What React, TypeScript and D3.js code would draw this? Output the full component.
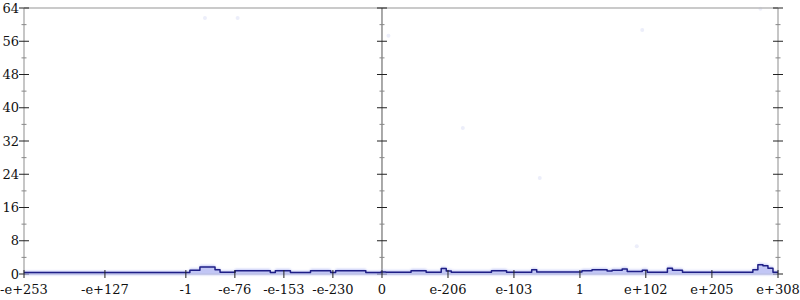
import React from "react";
import * as d3 from "d3";

// histogram bin heights (150 bins across the full axis)
const binValues: number[] = [
  ...Array(33).fill(0.35),
  0.9, 0.9, 1.7, 1.7, 1.7, 1.0, 0.4, 0.4, 0.4,
  0.8, 0.8, 0.8, 0.8, 0.8, 0.8, 0.8, 0.35, 0.8, 0.8, 0.8,
  0.35, 0.35, 0.35, 0.35, 0.8, 0.8, 0.8, 0.8, 0.35,
  0.8, 0.8, 0.8, 0.8, 0.8, 0.8, 0.35, 0.35, 0.35,
  0.5, 0.45, 0.45, 0.45, 0.45, 0.45, 0.8, 0.8, 0.8, 0.45, 0.45, 0.45,
  1.3, 0.7, 0.45, 0.45, 0.45, 0.45, 0.45, 0.45, 0.45, 0.45,
  0.8, 0.8, 0.8, 0.45, 0.45, 0.45, 0.45, 0.45, 1.0,
  0.5, 0.5, 0.5, 0.5, 0.5, 0.5, 0.5, 0.5, 0.5,
  0.8, 0.8, 1.0, 1.0, 1.0, 0.7, 0.9, 0.9, 1.2, 0.6, 0.6, 0.6, 0.9,
  0.45, 0.45, 0.45, 0.45, 1.4, 0.9, 0.9,
  ...Array(14).fill(0.4),
  1.0, 2.2, 2.0, 1.4, 0.4,
];

// faint scattered points (bin position, value)
const scatterX: number[] = [36, 42.5, 72.5, 87.3, 102.6, 121.9, 123, 146.5];
const scatterY: number[] = [61.6, 61.6, 57.3, 35.1, 23.1, 6.7, 58.7, 63.8];

const xTickPos: number[] = [0, 16.1, 32.2, 41.95, 51.7, 61.45, 71.22, 84.35, 97.47, 110.6, 123.7, 136.85, 150];
const xTickLabels: string[] = [
  "-e+253", "-e+127", "-1", "-e-76", "-e-153", "-e-230", "0",
  "e-206", "e-103", "1", "e+102", "e+205", "e+308",
];
const yMajor: number[] = [0, 8, 16, 24, 32, 40, 48, 56, 64];
const yMinor: number[] = [4, 12, 20, 28, 36, 44, 52, 60];
const zeroBin = 71.22;

export default function App() {
  const W = 800, H = 300;
  const x = d3.scaleLinear().domain([0, binValues.length]).range([24, 778]);
  const y = d3.scaleLinear().domain([0, 64]).range([274, 8]);
  const pts: [number, number][] = binValues.map((v, i) => [i, v]);
  pts.push([binValues.length, binValues[binValues.length - 1]]);
  const lineGen = d3.line<[number, number]>().x(d => x(d[0])).y(d => y(d[1])).curve(d3.curveStepAfter);
  const areaGen = d3.area<[number, number]>().x(d => x(d[0])).y0(y(-0.25)).y1(d => y(d[1] + 0.4)).curve(d3.curveStepAfter);
  const fontStyle = { fontFamily: "'DejaVu Serif', serif" };
  const axes = [0, zeroBin, binValues.length];
  return (
    <svg width={W} height={H} style={{ position: "absolute", left: 0, top: 0 }}>
      <defs>
        <filter id="blur" x="-5%" y="-200%" width="110%" height="500%">
          <feGaussianBlur stdDeviation="0.8" />
        </filter>
      </defs>
      <rect width={W} height={H} fill="#fff" />
      {/* scatter */}
      {scatterX.map((sx, i) => (
        <circle key={i} cx={x(sx)} cy={y(scatterY[i])} r={2} fill="#eceefa" />
      ))}
      {/* frame */}
      <line x1={x(0)} x2={x(150)} y1={y(64)} y2={y(64)} stroke="#b8b8b8" strokeWidth={1.6} />
      <line x1={x(0)} x2={x(150)} y1={y(0)} y2={y(0)} stroke="#b8b8b8" strokeWidth={1.2} />
      <line x1={x(0)} x2={x(0)} y1={y(0)} y2={y(64)} stroke="#b8b8b8" strokeWidth={1.6} />
      <line x1={x(150)} x2={x(150)} y1={y(0)} y2={y(64)} stroke="#b8b8b8" strokeWidth={1.6} />
      <line x1={x(zeroBin)} x2={x(zeroBin)} y1={y(0)} y2={y(64)} stroke="#555" strokeWidth={1} />
      {/* y ticks */}
      {axes.map((a, k) => (
        <g key={k}>
          {yMajor.map(t => (
            <line key={"M" + t} x1={x(a) - 5} x2={x(a) + 5} y1={y(t)} y2={y(t)} stroke="#222" strokeWidth={1} />
          ))}
          {yMinor.map(t => (
            <line key={"m" + t} x1={x(a) - 2.5} x2={x(a) + 2.5} y1={y(t)} y2={y(t)} stroke="#888" strokeWidth={1} />
          ))}
        </g>
      ))}
      {yMajor.map(t => (
        <text key={t} x={x(0) - 5} y={y(t)} dy="0.35em" textAnchor="end" fontSize={13} fill="#111" style={fontStyle}>
          {t}
        </text>
      ))}
      {/* histogram */}
      <path d={areaGen(pts) || ""} fill="#b3b9f3" opacity={0.8} filter="url(#blur)" />
      <path d={lineGen(pts) || ""} fill="none" stroke="#1f1f86" strokeWidth={1.5} strokeLinejoin="round" />
      {/* x ticks */}
      {xTickPos.map((p, i) => (
        <g key={i}>
          <line x1={x(p)} x2={x(p)} y1={y(0) - 4} y2={y(0) + 4} stroke="#222" strokeWidth={1} />
          <text x={x(p)} y={y(0) + 20} textAnchor="middle" fontSize={13} fill="#111" style={fontStyle}>
            {xTickLabels[i]}
          </text>
        </g>
      ))}
    </svg>
  );
}
